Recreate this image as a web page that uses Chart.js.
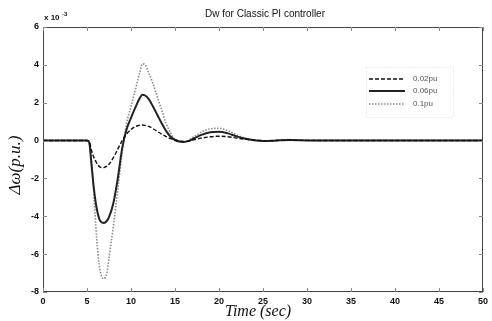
<!DOCTYPE html>
<html>
<head>
<meta charset="utf-8">
<script src="https://cdn.jsdelivr.net/npm/chart.js@4/dist/chart.umd.min.js"></script>
<style>
  html, body { margin: 0; padding: 0; background: #fff; }
  #wrap { width: 492px; height: 321px; }
</style>
</head>
<body>
<div id="wrap"><canvas id="model"></canvas></div>
<script>
// time in seconds, deviation in units of 1e-3 p.u.
const times = [0, 5, 5.25, 5.5, 5.75, 6, 6.25, 6.5, 6.9, 7.25,
    7.5, 8, 8.5, 9, 9.5, 10, 10.5, 11, 11.3, 11.6,
    12, 12.5, 13, 13.5, 14, 14.5, 15, 15.5, 16, 16.5,
    17, 18, 19, 20, 21, 22, 23, 24, 25, 26,
    27, 28, 30, 32, 50];
const dw002 = [0, 0, -0.05, -0.5, -0.85, -1.1, -1.3, -1.4, -1.43, -1.35,
    -1.25, -0.9, -0.45, 0.0, 0.35, 0.58, 0.74, 0.81, 0.82, 0.8,
    0.75, 0.63, 0.48, 0.34, 0.21, 0.1, 0.03, -0.03, -0.05, -0.03,
    0.03, 0.13, 0.2, 0.23, 0.2, 0.13, 0.07, 0.02, 0, -0.01,
    0.01, 0.01, 0.01, 0, 0];
const dw006 = [0, 0, -0.1, -1.2, -2.4, -3.3, -3.9, -4.25, -4.35, -4.25,
    -4.05, -3.3, -2.0, -0.4, 0.6, 1.2, 1.75, 2.25, 2.42, 2.38,
    2.2, 1.8, 1.35, 0.9, 0.5, 0.2, 0.03, -0.05, -0.07, -0.03,
    0.08, 0.3, 0.44, 0.47, 0.38, 0.22, 0.1, 0.02, -0.02, -0.01,
    0.02, 0.03, 0.01, 0, 0];
const dw01 = [0, 0, -0.1, -1.0, -2.6, -4.5, -6.0, -6.9, -7.3, -7.0,
    -6.2, -4.5, -2.6, -0.6, 0.9, 1.8, 2.7, 3.6, 4.05, 4.0,
    3.6, 3.0, 2.3, 1.6, 0.9, 0.4, 0.05, -0.05, -0.07, 0.0,
    0.15, 0.45, 0.62, 0.65, 0.52, 0.3, 0.12, 0.03, -0.03, -0.02,
    0.03, 0.05, 0.01, 0, 0];
const seriesNames = ["0.02pu", "0.06pu", "0.1pu"];
const xTicks = [0, 5, 10, 15, 20, 25, 30, 35, 40, 45, 50];
const yTicks = [-8, -6, -4, -2, 0, 2, 4, 6];

const styles = [
    { color: "#111", width: 1.4, dash: [4, 2] },
    { color: "#222", width: 2, dash: [] },
    { color: "#8a8a8a", width: 1.6, dash: [1.5, 1.5] }
];

function points(vals) {
    return times.map((t, i) => ({ x: t, y: vals[i] }));
}

const extras = {
    id: "extras",
    afterDraw(chart) {
        const ctx = chart.ctx;
        const a = chart.chartArea;
        const xs = chart.scales.x;
        const ys = chart.scales.y;
        ctx.save();
        // box
        ctx.strokeStyle = "#444";
        ctx.lineWidth = 1;
        ctx.strokeRect(a.left + 0.5, a.top + 0.5, a.right - a.left - 1, a.bottom - a.top - 1);
        // inward ticks
        ctx.strokeStyle = "#888";
        ctx.beginPath();
        xTicks.forEach(v => {
            const px = Math.round(xs.getPixelForValue(v)) + 0.5;
            ctx.moveTo(px, a.bottom); ctx.lineTo(px, a.bottom - 4);
            ctx.moveTo(px, a.top); ctx.lineTo(px, a.top + 4);
        });
        yTicks.forEach(v => {
            const py = Math.round(ys.getPixelForValue(v)) + 0.5;
            ctx.moveTo(a.left, py); ctx.lineTo(a.left + 4, py);
            ctx.moveTo(a.right, py); ctx.lineTo(a.right - 4, py);
        });
        ctx.stroke();
        // title
        ctx.fillStyle = "#111";
        ctx.font = "10px 'Liberation Sans'";
        ctx.textAlign = "center";
        ctx.textBaseline = "middle";
        ctx.fillText("Dw for Classic PI controller", 265, 14);
        // exponent
        ctx.textAlign = "left";
        ctx.font = "bold 8px 'Liberation Sans'";
        ctx.fillText("x 10", 44, 18);
        ctx.font = "bold 6px 'Liberation Sans'";
        ctx.fillText("-3", 62, 14);
        // axis labels
        ctx.font = "italic 16px 'Liberation Serif'";
        ctx.textAlign = "center";
        ctx.fillText("Time (sec)", 258, 312);
        ctx.font = "italic 17px 'Liberation Serif'";
        ctx.translate(16, 165);
        ctx.rotate(-Math.PI / 2);
        ctx.fillText("\u0394\u03c9(p.u.)", 0, 0);
        ctx.restore();
        // legend
        ctx.save();
        ctx.strokeStyle = "#ddd";
        ctx.setLineDash([1, 2]);
        ctx.strokeRect(366.5, 67.5, 87, 50);
        const rows = [79, 91, 104];
        seriesNames.forEach((name, i) => {
            const s = styles[i];
            ctx.strokeStyle = s.color;
            ctx.lineWidth = s.width;
            ctx.setLineDash(s.dash);
            ctx.beginPath();
            ctx.moveTo(369, rows[i]); ctx.lineTo(405, rows[i]);
            ctx.stroke();
            ctx.fillStyle = "#555";
            ctx.font = "8px 'Liberation Sans'";
            ctx.textBaseline = "middle";
            ctx.fillText(name, 413, rows[i]);
        });
        ctx.restore();
    }
};

new Chart(document.getElementById("model"), {
    type: "line",
    data: {
        datasets: seriesNames.map((name, i) => ({
            label: name,
            data: points([dw002, dw006, dw01][i]),
            borderColor: styles[i].color,
            borderWidth: styles[i].width,
            borderDash: styles[i].dash,
            pointRadius: 0,
            fill: false,
            cubicInterpolationMode: "monotone"
        }))
    },
    options: {
        responsive: true,
        maintainAspectRatio: false,
        animation: false,
        layout: { padding: { top: 27, left: 0, right: 5, bottom: 0 } },
        plugins: { legend: { display: false }, title: { display: false }, tooltip: { enabled: false } },
        scales: {
            x: {
                type: "linear",
                min: 0,
                max: 50,
                afterFit(s) { s.height = 29; },
                afterBuildTicks(s) { s.ticks = xTicks.map(v => ({ value: v })); },
                grid: { display: false, drawTicks: false },
                border: { display: false },
                ticks: { padding: 4, color: "#111", font: { family: "Liberation Sans", size: 9, weight: "bold" } }
            },
            y: {
                min: -8,
                max: 6,
                afterFit(s) { s.width = 43; },
                afterBuildTicks(s) { s.ticks = yTicks.map(v => ({ value: v })); },
                grid: { display: false, drawTicks: false },
                border: { display: false },
                ticks: { padding: 4, color: "#111", font: { family: "Liberation Sans", size: 9, weight: "bold" } }
            }
        }
    },
    plugins: [extras]
});
</script>
</body>
</html>
